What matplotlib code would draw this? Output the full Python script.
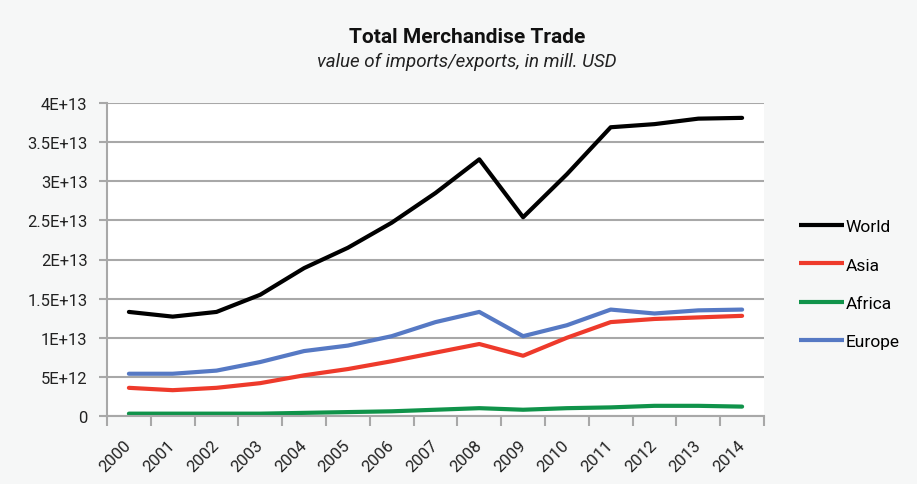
import numpy as np
import matplotlib
matplotlib.use('Agg')
import matplotlib.pyplot as plt
from matplotlib.ticker import FixedLocator, NullFormatter

years = [str(y) for y in range(2000, 2015)]

# values in units of 1E13 USD
world = [1.33, 1.27, 1.33, 1.55, 1.89, 2.15, 2.47, 2.85, 3.28, 2.54, 3.09, 3.69, 3.73, 3.80, 3.81]
asia = [0.36, 0.33, 0.36, 0.42, 0.52, 0.60, 0.70, 0.81, 0.92, 0.77, 1.00, 1.20, 1.24, 1.26, 1.28]
africa = [0.03, 0.03, 0.03, 0.03, 0.04, 0.05, 0.06, 0.08, 0.10, 0.08, 0.10, 0.11, 0.13, 0.13, 0.12]
europe = [0.54, 0.54, 0.58, 0.69, 0.83, 0.90, 1.02, 1.20, 1.33, 1.02, 1.16, 1.36, 1.31, 1.35, 1.36]

series = [('World', world, '#000000'),
          ('Asia', asia, '#ee3a2b'),
          ('Africa', africa, '#10934a'),
          ('Europe', europe, '#5679c4')]

yticks = [0, 0.5e13, 1e13, 1.5e13, 2e13, 2.5e13, 3e13, 3.5e13, 4e13]
ytick_labels = ['0', '5E+12', '1E+13', '1.5E+13', '2E+13', '2.5E+13', '3E+13', '3.5E+13', '4E+13']

plt.rcParams['font.family'] = ['Roboto', 'DejaVu Sans']

fig = plt.figure(figsize=(9.17, 4.85), dpi=100)
fig.patch.set_facecolor('#f6f7f7')
ax = fig.add_axes([107 / 917, 1 - 417 / 485, (764 - 107) / 917, (417 - 104) / 485])
ax.set_facecolor('white')

x = np.arange(len(years))
for name, vals, color in series:
    ax.plot(x, np.array(vals) * 1e13, color=color, linewidth=3, label=name,
            solid_capstyle='round', solid_joinstyle='round')

ax.set_xlim(-0.5, len(years) - 0.5)
ax.set_ylim(0, 4e13)
ax.set_yticks(yticks)
ax.set_yticklabels(ytick_labels, fontsize=12, color='#222222')
ax.yaxis.grid(True, color='#a8a8a8', linewidth=1.5)
ax.set_axisbelow(True)

# tick marks at category boundaries, labels at centers
ax.xaxis.set_major_locator(FixedLocator(np.arange(-0.5, len(years), 1.0)))
ax.xaxis.set_major_formatter(NullFormatter())
ax.xaxis.set_minor_locator(FixedLocator(x))
ax.set_xticklabels(years, minor=True, rotation=45, ha='right', va='center',
                   rotation_mode='anchor', fontsize=12, color='#222222')
ax.tick_params(axis='x', which='major', length=7, width=1.5, color='#a8a8a8', direction='out')
ax.tick_params(axis='x', which='minor', length=0, pad=19)
ax.tick_params(axis='y', length=6, width=1.5, color='#a8a8a8', pad=8)

for s in ['top', 'right']:
    ax.spines[s].set_visible(False)
for s in ['left', 'bottom']:
    ax.spines[s].set_color('#a8a8a8')
    ax.spines[s].set_linewidth(1.5)

leg = fig.legend(loc='center left', bbox_to_anchor=(783 / 917, 1 - 285 / 485), frameon=False,
                 fontsize=12.5, handlelength=2.6, handletextpad=0.1, labelspacing=1.32)
for h in leg.legend_handles:
    h.set_solid_capstyle('butt')

fig.text(467 / 917, 1 - 38 / 485, 'Total Merchandise Trade', ha='center', va='center',
         fontsize=15, fontweight='bold', color='#111111')
fig.text(467 / 917, 1 - 62 / 485, 'value of imports/exports, in mill. USD', ha='center',
         va='center', fontsize=13.5, style='italic', color='#222222')

fig.savefig('out.png', dpi=100, facecolor=fig.get_facecolor())
